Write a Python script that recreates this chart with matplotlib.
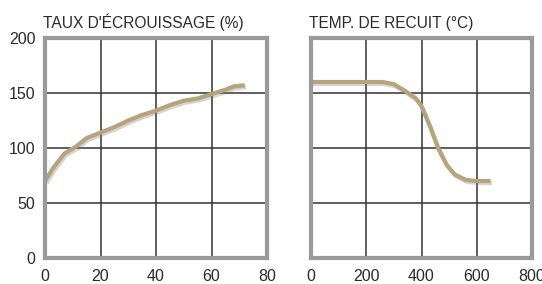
import matplotlib.pyplot as plt
import matplotlib.patheffects as pe

plt.rcParams['font.family'] = ['Liberation Sans', 'DejaVu Sans']

# taux d'ecrouissage (%) -> durete
ecr_x = [0, 3, 7, 11, 15, 20, 25, 30, 35, 40, 45, 50, 55, 60, 65, 68, 72]
ecr_y = [70, 82, 95, 101, 109, 114, 119, 125, 130, 134, 139, 143, 145, 149, 153, 156, 157]

# temperature de recuit (C) -> durete
rec_x = [0, 100, 200, 260, 300, 340, 380, 400, 430, 460, 490, 520, 560, 600, 650]
rec_y = [160, 160, 160, 160, 158, 152, 145, 138, 120, 100, 85, 76, 71, 70, 70]

x1_ticks = [0, 20, 40, 60, 80]
x2_ticks = [0, 200, 400, 600, 800]
y_ticks = [0, 50, 100, 150, 200]

CURVE = '#b5a47c'
GRID = '#333333'
FRAME = '#9a9a9a'
TXT = '#2a2a2a'

fig = plt.figure(figsize=(5.42, 2.84), dpi=100)
ax1 = fig.add_axes([45/542, 26/284, 222/542, 220/284])
ax2 = fig.add_axes([311/542, 26/284, 221/542, 220/284])

def style(ax, xs, xmax, title, ylabels):
    ax.set_xlim(0, xmax)
    ax.set_ylim(0, 200)
    ax.set_xticks(xs)
    ax.set_yticks(y_ticks)
    ax.grid(True, color=GRID, linewidth=1.1)
    ax.set_axisbelow(True)
    ax.tick_params(length=0, labelsize=11.5, colors=TXT)
    ax.tick_params(axis='y', pad=7)
    ax.tick_params(axis='x', pad=8)
    if not ylabels:
        ax.tick_params(labelleft=False)
    for s in ax.spines.values():
        s.set_color(FRAME)
        s.set_linewidth(3)
    ax.set_title(title, loc='left', fontsize=11.2, color=TXT, pad=7, x=-0.01)

shadow = [pe.SimpleLineShadow(offset=(1, -1.5), shadow_color='#777777', alpha=0.3), pe.Normal()]

ax1.plot(ecr_x, ecr_y, color=CURVE, linewidth=3, solid_capstyle='butt', path_effects=shadow, clip_on=False)
style(ax1, x1_ticks, 80, "TAUX D'ÉCROUISSAGE (%)", True)

ax2.plot(rec_x, rec_y, color=CURVE, linewidth=3, solid_capstyle='butt', path_effects=shadow, clip_on=False)
style(ax2, x2_ticks, 800, "TEMP. DE RECUIT (°C)", False)

fig.savefig('out.png', dpi=100)
